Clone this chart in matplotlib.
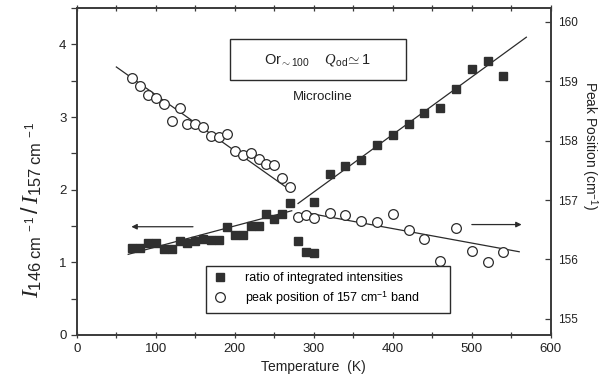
import numpy as np
import matplotlib
matplotlib.use("Agg")
import matplotlib.pyplot as plt
from matplotlib.patches import Rectangle
from matplotlib.ticker import MultipleLocator

plt.rcParams["font.family"] = ["Liberation Sans", "DejaVu Sans"]
plt.rcParams["mathtext.fontset"] = "custom"
plt.rcParams["mathtext.rm"] = "Liberation Sans"
plt.rcParams["mathtext.it"] = "Liberation Serif:italic"
plt.rcParams["mathtext.bf"] = "Liberation Sans:bold"

# ratio of integrated intensities I146 / I157 (left axis)
ratio_T = [70, 80, 90, 100, 110, 120, 130, 140, 150, 160, 170, 180, 190, 200,
           210, 220, 230, 240, 250, 260, 270, 280, 290, 300, 300,
           320, 340, 360, 380, 400, 420, 440, 460, 480, 500, 520, 540]
ratio_val = [1.20, 1.20, 1.26, 1.27, 1.18, 1.18, 1.30, 1.27, 1.30, 1.32, 1.31, 1.31,
             1.48, 1.38, 1.38, 1.50, 1.50, 1.66, 1.60, 1.66, 1.82, 1.29, 1.14, 1.13,
             1.83, 2.22, 2.33, 2.41, 2.61, 2.76, 2.90, 3.05, 3.13, 3.39, 3.66, 3.77, 3.57]

# peak position of the 157 cm-1 band (right axis)
peak_T = [70, 80, 90, 100, 110, 120, 130, 140, 150, 160, 170, 180, 190, 200,
          210, 220, 230, 240, 250, 260, 270,
          280, 290, 300, 320, 340, 360, 380, 400, 420, 440, 460, 480, 500, 520, 540]
peak_val = [159.06, 158.92, 158.77, 158.71, 158.62, 158.33, 158.55, 158.28, 158.28,
            158.23, 158.08, 158.06, 158.11, 157.82, 157.76, 157.79, 157.69, 157.60,
            157.59, 157.37, 157.22,
            156.72, 156.75, 156.69, 156.78, 156.75, 156.65, 156.63, 156.76, 156.50,
            156.34, 155.98, 156.53, 156.14, 155.95, 156.12]

# linear fits below and above the transition (end points)
ratio_fit_low_T, ratio_fit_low = [65, 272], [1.11, 1.71]
ratio_fit_high_T, ratio_fit_high = [280, 569], [1.81, 4.10]
peak_fit_low_T, peak_fit_low = [50, 272], [159.24, 157.15]
peak_fit_high_T, peak_fit_high = [293, 560], [156.78, 156.13]

ink = "#2b2b2b"

fig = plt.figure(figsize=(6.10, 3.89), dpi=100)
ax = fig.add_axes([0.126, 0.139, 0.777, 0.840])
ax2 = ax.twinx()

ax.plot(ratio_fit_low_T, ratio_fit_low, color=ink, lw=0.9)
ax.plot(ratio_fit_high_T, ratio_fit_high, color=ink, lw=0.9)
ax2.plot(peak_fit_low_T, peak_fit_low, color=ink, lw=0.9)
ax2.plot(peak_fit_high_T, peak_fit_high, color=ink, lw=0.9)

sq, = ax.plot(ratio_T, ratio_val, ls="none", marker="s", ms=5.2,
              mfc="#303030", mec="#303030", label="ratio of integrated intensities")
ci, = ax2.plot(peak_T, peak_val, ls="none", marker="o", ms=7, mfc="white",
               mec=ink, mew=0.9, label="peak position of 157 cm$^{-1}$ band")

ax.set_xlim(0, 600)
ax.set_ylim(0, 4.5)
ax2.set_ylim(154.73, 160.23)

ax.xaxis.set_major_locator(MultipleLocator(100))
ax.xaxis.set_minor_locator(MultipleLocator(50))
ax.yaxis.set_major_locator(MultipleLocator(1))
ax.yaxis.set_minor_locator(MultipleLocator(0.5))
ax2.yaxis.set_major_locator(MultipleLocator(1))

for a in (ax, ax2):
    for s in a.spines.values():
        s.set_color("#3a3a3a")
        s.set_linewidth(1.2)

ax.tick_params(axis="x", which="both", direction="inout", top=True, length=5,
               width=0.9, colors="#3a3a3a", labelcolor="#222", labelsize=9.5, pad=3)
ax.tick_params(axis="x", which="minor", length=4)
ax.tick_params(axis="y", which="both", direction="out", length=4, width=0.9,
               colors="#3a3a3a", labelcolor="#222", labelsize=9.5)
ax2.tick_params(axis="y", which="both", direction="in", length=4, width=0.9,
                colors="#3a3a3a", labelcolor="#222", labelsize=8.5, pad=5)

ax.set_xlabel("Temperature  (K)", fontsize=10, color="#222", labelpad=4)
fig.text(0.052, 0.46, r"$I_{\mathrm{146\ cm^{\ -1}}}\,/\,I_{\mathrm{157\ cm^{\ -1}}}$",
         rotation=90, ha="center", va="center", fontsize=17, color="#222")
fig.text(0.967, 0.625, r"Peak Position (cm$^{-1}$)", rotation=270,
         ha="center", va="center", fontsize=10, color="#222")

# sample label box
ax.add_patch(Rectangle((0.323, 0.780), 0.371, 0.125, transform=ax.transAxes,
                       fill=False, ec="#2b2b2b", lw=1.0, zorder=5))
ax.text(0.508, 0.842, r"Or$_{\mathrm{\sim100}}$    $Q_{\mathrm{od}}\!\simeq 1$",
        transform=ax.transAxes, ha="center", va="center", fontsize=10.5, color="#222")
ax.text(0.519, 0.728, "Microcline", transform=ax.transAxes, ha="center",
        va="center", fontsize=9.5, color="#222")

# arrows pointing to the axis each series belongs to
ax.annotate("", xy=(69, 1.49), xytext=(147, 1.49),
            arrowprops=dict(arrowstyle="-|>", color=ink, lw=0.9,
                            mutation_scale=8, shrinkA=0, shrinkB=0))
ax.annotate("", xy=(563, 1.52), xytext=(500, 1.52),
            arrowprops=dict(arrowstyle="-|>", color=ink, lw=0.9,
                            mutation_scale=8, shrinkA=0, shrinkB=0))

leg = ax2.legend(handles=[sq, ci], loc="lower left",
                 bbox_to_anchor=(0.272, 0.067, 0.515, 0.138), mode="expand",
                 fontsize=9, frameon=True, fancybox=False, borderpad=0.5,
                 handletextpad=1.4, labelspacing=0.4, handlelength=1.2,
                 borderaxespad=0)
leg.get_frame().set_edgecolor("#2b2b2b")
leg.get_frame().set_linewidth(1.0)
leg.get_frame().set_alpha(1)

fig.savefig("out.png", dpi=100)
